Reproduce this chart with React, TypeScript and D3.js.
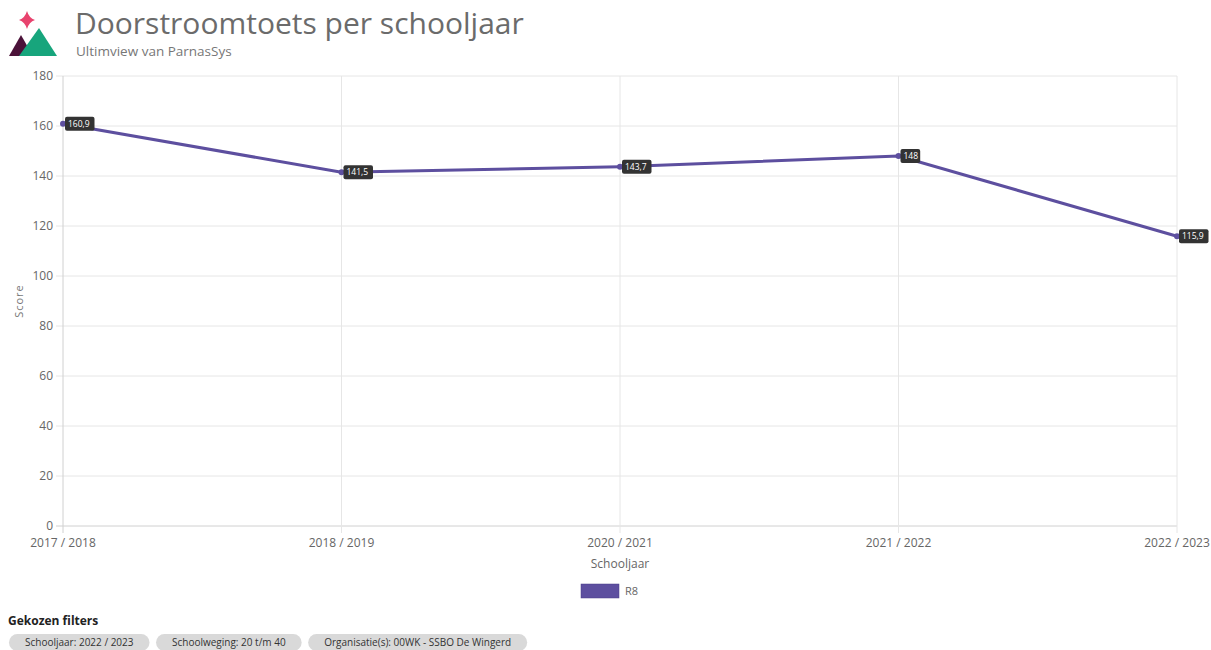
import React, { useEffect, useRef } from "react";
import * as d3 from "d3";

const schooljaren = ["2017 / 2018", "2018 / 2019", "2020 / 2021", "2021 / 2022", "2022 / 2023"];
const scoresR8 = [160.9, 141.5, 143.7, 148, 115.9];
const yTicks = [0, 20, 40, 60, 80, 100, 120, 140, 160, 180];
const filters = ["Schooljaar: 2022 / 2023", "Schoolweging: 20 t/m 40", "Organisatie(s): 00WK - SSBO De Wingerd"];

const FONT = "'Open Sans', 'DejaVu Sans', sans-serif";
const LINE = "#5d4f9f";

const App = () => {
  const ref = useRef<SVGSVGElement>(null);

  useEffect(() => {
    const width = 1211,
      height = 650;
    const margin = { top: 76, right: 34, bottom: 124, left: 63 };

    const svg = d3.select(ref.current);
    svg.selectAll("*").remove();
    svg.attr("width", width).attr("height", height).style("font-family", FONT);

    // header with logo
    const logo = svg.append("g");
    logo
      .append("path")
      .attr("d", "M27,11 Q29,18 35,20 Q29,22 27,29 Q25,22 19,20 Q25,18 27,11 Z")
      .attr("fill", "#e8436e");
    logo.append("path").attr("d", "M9,56 L21,35 L33,56 Z").attr("fill", "#4b1239");
    logo.append("path").attr("d", "M19,56 L39,28 L57,56 Z").attr("fill", "#17a57c");

    svg
      .append("text")
      .attr("x", 75)
      .attr("y", 34)
      .attr("fill", "#6b6b6b")
      .style("font-size", "30px")
      .text("Doorstroomtoets per schooljaar");
    svg
      .append("text")
      .attr("x", 76)
      .attr("y", 56)
      .attr("fill", "#777")
      .style("font-size", "13.5px")
      .text("Ultimview van ParnasSys");

    const innerW = width - margin.left - margin.right;
    const innerH = height - margin.top - margin.bottom;

    const x = d3.scalePoint().domain(schooljaren).range([0, innerW]);
    const y = d3.scaleLinear().domain([0, 180]).range([innerH, 0]);

    const g = svg.append("g").attr("transform", `translate(${margin.left},${margin.top})`);

    // grid
    g.append("g")
      .selectAll("line")
      .data(yTicks)
      .enter()
      .append("line")
      .attr("x1", -7)
      .attr("x2", innerW)
      .attr("y1", (d) => y(d))
      .attr("y2", (d) => y(d))
      .attr("stroke", (d) => (d === 0 ? "#d0d0d0" : "#e6e6e6"));
    g.append("g")
      .selectAll("line")
      .data(schooljaren)
      .enter()
      .append("line")
      .attr("x1", (d) => x(d)!)
      .attr("x2", (d) => x(d)!)
      .attr("y1", 0)
      .attr("y2", innerH + 7)
      .attr("stroke", (d, i) => (i === 0 ? "#d0d0d0" : "#e6e6e6"));

    // y labels
    g.append("g")
      .selectAll("text")
      .data(yTicks)
      .enter()
      .append("text")
      .attr("x", -10)
      .attr("y", (d) => y(d))
      .attr("dy", "0.35em")
      .attr("text-anchor", "end")
      .attr("fill", "#666")
      .style("font-size", "12px")
      .text((d) => d);

    // x labels
    g.append("g")
      .selectAll("text")
      .data(schooljaren)
      .enter()
      .append("text")
      .attr("x", (d) => x(d)!)
      .attr("y", innerH + 21)
      .attr("text-anchor", "middle")
      .attr("fill", "#666")
      .style("font-size", "12px")
      .text((d) => d);

    // axis titles
    g.append("text")
      .attr("x", innerW / 2)
      .attr("y", innerH + 42)
      .attr("text-anchor", "middle")
      .attr("fill", "#666")
      .style("font-size", "12px")
      .text("Schooljaar");
    g.append("text")
      .attr("transform", "rotate(-90)")
      .attr("x", -innerH / 2)
      .attr("y", -40)
      .attr("text-anchor", "middle")
      .attr("fill", "#777")
      .style("font-size", "11px")
      .style("letter-spacing", "1px")
      .text("Score");

    // line
    const line = d3
      .line<number>()
      .x((d, i) => x(schooljaren[i])!)
      .y((d) => y(d));
    g.append("path")
      .datum(scoresR8)
      .attr("d", line)
      .attr("fill", "none")
      .attr("stroke", LINE)
      .attr("stroke-width", 3);

    g.selectAll(".dot")
      .data(scoresR8)
      .enter()
      .append("circle")
      .attr("cx", (d, i) => x(schooljaren[i])!)
      .attr("cy", (d) => y(d))
      .attr("r", 3)
      .attr("fill", LINE);

    // value labels
    const labels = g
      .selectAll(".lbl")
      .data(scoresR8)
      .enter()
      .append("g")
      .attr("transform", (d, i) => `translate(${x(schooljaren[i])! + 2},${y(d)})`);
    labels
      .append("rect")
      .attr("x", 0)
      .attr("y", -7)
      .attr("width", (d) => String(d).replace(".", ",").length * 4.9 + 5)
      .attr("height", 14)
      .attr("rx", 2)
      .attr("fill", "#333");
    labels
      .append("text")
      .attr("x", 3)
      .attr("y", 0)
      .attr("dy", "0.35em")
      .attr("fill", "#fff")
      .style("font-size", "8.5px")
      .text((d) => String(d).replace(".", ","));

    // legend
    svg
      .append("rect")
      .attr("x", 581)
      .attr("y", 584)
      .attr("width", 38)
      .attr("height", 14)
      .attr("fill", LINE)
      .attr("stroke", "#4a3f88")
      .attr("stroke-width", 0.5);
    svg
      .append("text")
      .attr("x", 625)
      .attr("y", 591)
      .attr("dy", "0.35em")
      .attr("fill", "#666")
      .style("font-size", "11px")
      .text("R8");

    // chosen filters
    svg
      .append("text")
      .attr("x", 8)
      .attr("y", 625)
      .attr("fill", "#222")
      .style("font-size", "12px")
      .style("font-weight", "bold")
      .text("Gekozen filters");

    let cx = 9;
    filters.forEach((f) => {
      const chip = svg.append("g").attr("transform", `translate(${cx},634)`);
      const t = chip
        .append("text")
        .attr("x", 16)
        .attr("y", 8)
        .attr("dy", "0.35em")
        .attr("fill", "#333")
        .style("font-size", "10px")
        .text(f);
      const w = (t.node() as SVGTextElement).getComputedTextLength() + 32;
      chip
        .insert("rect", "text")
        .attr("width", w)
        .attr("height", 17)
        .attr("rx", 8.5)
        .attr("fill", "#d9d9d9");
      cx += w + 6.5;
    });
  }, []);

  return <svg ref={ref} style={{ position: "absolute", left: 0, top: 0 }}></svg>;
};

export default App;
